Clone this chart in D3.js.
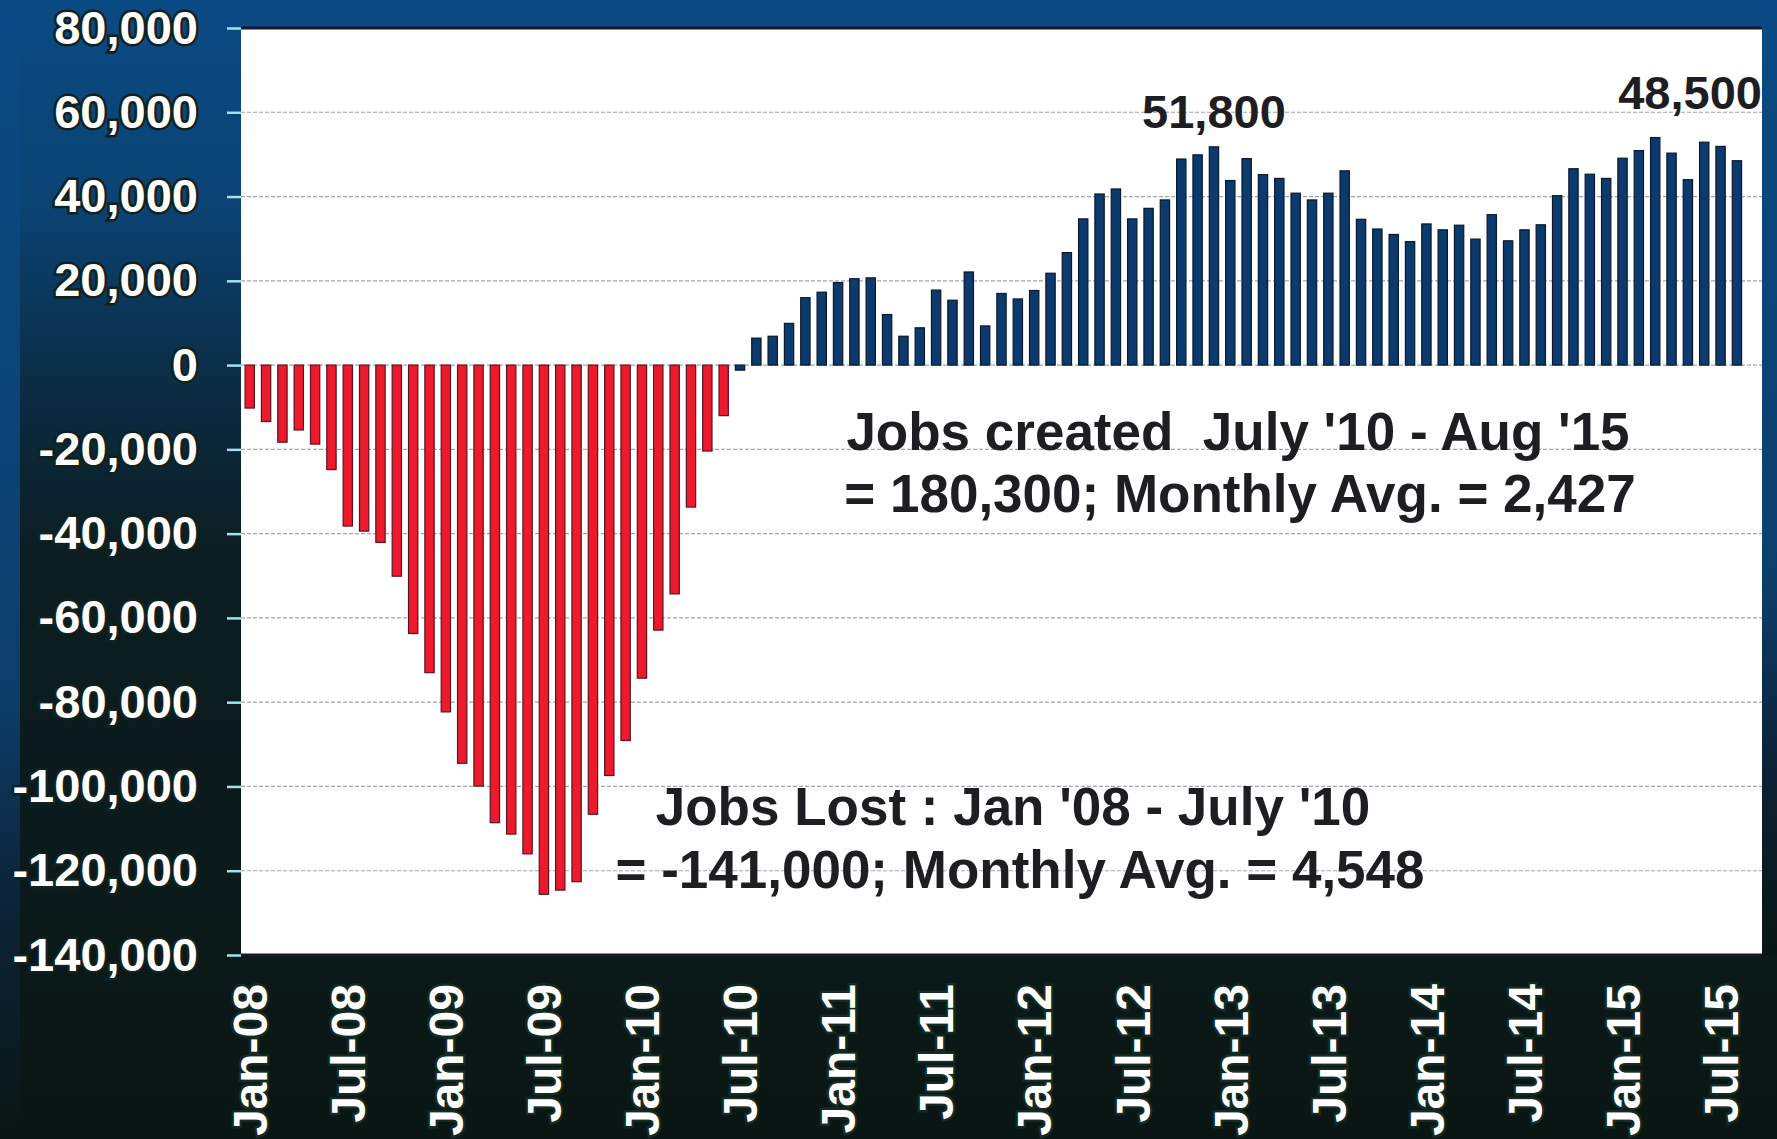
<!DOCTYPE html>
<html>
<head>
<meta charset="utf-8">
<script src="https://cdn.jsdelivr.net/npm/d3@7"></script>
<style>
  body { margin: 0; background: #0b1d1f; }
  svg { display: block; }
</style>
</head>
<body>
<div id="chart"></div>
<script>
// monthly jobs change vs Jan '08
const jobs2008 = [-10200, -13400, -18300, -15400, -18750, -24800, -38200, -39400, -42100, -50100, -63700, -73000];
const jobs2009 = [-82300, -94500, -99900, -108600, -111300, -116000, -125600, -124600, -122600, -106600, -97400, -89100];
const jobs2010 = [-74300, -62900, -54300, -33700, -20400, -12000, -1200, 6400, 6850, 9900, 16000, 17300];
const jobs2011 = [19600, 20500, 20700, 12000, 6850, 8850, 17800, 15400, 22100, 9300, 17000, 15700];
const jobs2012 = [17700, 21800, 26700, 34700, 40600, 41800, 34700, 37200, 39200, 48900, 49900, 51800];
const jobs2013 = [43800, 49000, 45200, 44300, 40800, 39200, 40800, 46100, 34600, 32300, 31000, 29300];
const jobs2014 = [33500, 32100, 33200, 29900, 35700, 29500, 32100, 33300, 40200, 46600, 45300, 44300];
const jobs2015 = [49100, 50900, 54000, 50300, 44000, 52900, 51900, 48500];

const yTicks = [80000, 60000, 40000, 20000, 0, -20000, -40000, -60000, -80000, -100000, -120000, -140000];
const xTickLabels = ["Jan-08", "Jul-08", "Jan-09", "Jul-09", "Jan-10", "Jul-10", "Jan-11", "Jul-11",
                     "Jan-12", "Jul-12", "Jan-13", "Jul-13", "Jan-14", "Jul-14", "Jan-15", "Jul-15"];
const firstCreatedMonth = "Jul-10";

const width = 1777;
const height = 1139;
const plot = {left: 241, right: 1762, top: 28, bottom: 955};

const fmtMonth = d3.timeFormat("%b-%y");
// plain hyphen for negatives, like the original
const fmtNum = d3.formatLocale({decimal: ".", thousands: ",", grouping: [3], currency: ["$", ""], minus: "-"}).format(",");

// axis runs Jan-08 .. Sep-15 (last slot empty)
const months = d3.timeMonth.range(new Date(2008, 0, 1), new Date(2015, 9, 1)).map(fmtMonth);
const values = [].concat(jobs2008, jobs2009, jobs2010, jobs2011, jobs2012, jobs2013, jobs2014, jobs2015);
const data = values.map((v, i) => ({month: months[i], value: v, idx: i}));
const createdIdx = months.indexOf(firstCreatedMonth);

const svg = d3.select("#chart").append("svg").attr("width", width).attr("height", height);

// background
const defs = svg.append("defs");
const bg = defs.append("linearGradient").attr("id", "bg").attr("x1", 0).attr("y1", 0).attr("x2", 0).attr("y2", 1);
bg.append("stop").attr("offset", "0%").attr("stop-color", "#0a4a84");
bg.append("stop").attr("offset", "18%").attr("stop-color", "#0b4373");
bg.append("stop").attr("offset", "34%").attr("stop-color", "#0b2c44");
bg.append("stop").attr("offset", "48%").attr("stop-color", "#0c1e22");
bg.append("stop").attr("offset", "100%").attr("stop-color", "#0a1613");
const strip = defs.append("linearGradient").attr("id", "strip").attr("x1", 0).attr("y1", 0).attr("x2", 0).attr("y2", 1);
strip.append("stop").attr("offset", "0%").attr("stop-color", "#0a4a84");
strip.append("stop").attr("offset", "60%").attr("stop-color", "#0d3f6c");
strip.append("stop").attr("offset", "80%").attr("stop-color", "#0c2236");
strip.append("stop").attr("offset", "100%").attr("stop-color", "#0a1613");

svg.append("rect").attr("width", width).attr("height", height).attr("fill", "url(#bg)");
svg.append("rect").attr("x", 0).attr("width", 20).attr("height", height).attr("fill", "url(#strip)");
svg.append("rect").attr("x", plot.right).attr("width", width - plot.right).attr("height", plot.bottom)
    .attr("fill", "url(#strip)");

// scales
const xScale = d3.scaleBand()
    .domain(months)
    .range([plot.left, plot.right])
    .paddingInner(0.43)
    .paddingOuter(0.25);

const yScale = d3.scaleLinear()
    .domain([-140000, 80000])
    .range([plot.bottom, plot.top]);

// plot area
svg.append("rect")
    .attr("x", plot.left).attr("y", plot.top)
    .attr("width", plot.right - plot.left).attr("height", plot.bottom - plot.top)
    .attr("fill", "#ffffff");

svg.append("g")
    .selectAll("line")
    .data(yTicks.filter(t => t < 80000 && t > -140000))
    .join("line")
    .attr("x1", plot.left).attr("x2", plot.right)
    .attr("y1", d => yScale(d)).attr("y2", d => yScale(d))
    .attr("stroke", "#a4a4ae")
    .attr("stroke-width", 1.2)
    .attr("stroke-dasharray", "4,2");

// y axis
const yAxis = d3.axisLeft(yScale)
    .tickValues(yTicks)
    .tickSize(14)
    .tickPadding(29)
    .tickFormat(fmtNum);

const gy = svg.append("g")
    .attr("transform", `translate(${plot.left}, 0)`)
    .call(yAxis);
gy.select(".domain").remove();
gy.selectAll(".tick line").attr("stroke", "#9fe3f0").attr("stroke-width", 2.5);
gy.selectAll(".tick text")
    .attr("fill", "#ffffff")
    .attr("stroke", "#0f2220")
    .attr("stroke-width", 5)
    .attr("paint-order", "stroke")
    .style("font-family", "'Liberation Sans', Arial, sans-serif")
    .style("font-weight", "bold")
    .style("font-size", "47px");

// x axis
const xAxis = d3.axisBottom(xScale)
    .tickValues(xTickLabels)
    .tickSize(0)
    .tickPadding(0);

const gx = svg.append("g")
    .attr("transform", `translate(0, ${plot.bottom})`)
    .call(xAxis);
gx.select(".domain").remove();
gx.selectAll(".tick text")
    .attr("transform", "rotate(-90)")
    .attr("x", -29)
    .attr("y", 0)
    .attr("dy", "0.36em")
    .attr("text-anchor", "end")
    .attr("fill", "#ffffff")
    .attr("stroke", "#142a22")
    .attr("stroke-width", 5)
    .attr("paint-order", "stroke")
    .style("font-family", "'Liberation Sans', Arial, sans-serif")
    .style("font-weight", "bold")
    .style("font-size", "48px");

// bars
svg.append("g")
    .selectAll("rect")
    .data(data)
    .join("rect")
    .attr("x", d => xScale(d.month))
    .attr("width", xScale.bandwidth())
    .attr("y", d => yScale(Math.max(0, d.value)))
    .attr("height", d => Math.abs(yScale(d.value) - yScale(0)))
    .attr("fill", d => d.idx >= createdIdx ? "#0c3a6c" : "#ec1a2c")
    .attr("stroke", d => d.idx >= createdIdx ? "#061a30" : "#5c1222")
    .attr("stroke-width", 1.2);

// plot frame
svg.append("line")
    .attr("x1", plot.left).attr("x2", plot.right)
    .attr("y1", plot.top).attr("y2", plot.top)
    .attr("stroke", "#1c1230").attr("stroke-width", 3);
svg.append("line")
    .attr("x1", plot.left).attr("x2", plot.right)
    .attr("y1", plot.bottom).attr("y2", plot.bottom)
    .attr("stroke", "#1c1a2a").attr("stroke-width", 3);

// annotations
const annFont = "'Liberation Sans', Arial, sans-serif";
const peak = data.find(d => d.month === "Dec-12");
const last = data[data.length - 1];

svg.append("text")
    .attr("x", xScale(peak.month) + xScale.bandwidth() / 2)
    .attr("y", 128)
    .attr("text-anchor", "middle")
    .style("font-family", annFont).style("font-weight", "bold").style("font-size", "47px")
    .attr("fill", "#1e1e22")
    .text(fmtNum(peak.value));

svg.append("text")
    .attr("x", plot.right)
    .attr("y", 109)
    .attr("text-anchor", "end")
    .style("font-family", annFont).style("font-weight", "bold").style("font-size", "47px")
    .attr("fill", "#1e1e22")
    .text(fmtNum(last.value));

const notes = [
    {x: 1238, y: 450, text: "Jobs created  July '10 - Aug '15"},
    {x: 1240, y: 512, text: "= 180,300; Monthly Avg. = 2,427"},
    {x: 1013, y: 825, text: "Jobs Lost : Jan '08 - July '10"},
    {x: 1020, y: 888, text: "= -141,000; Monthly Avg. = 4,548"}
];

svg.append("g")
    .selectAll("text")
    .data(notes)
    .join("text")
    .attr("x", d => d.x)
    .attr("y", d => d.y)
    .attr("text-anchor", "middle")
    .style("font-family", annFont).style("font-weight", "bold").style("font-size", "53px")
    .style("white-space", "pre")
    .attr("xml:space", "preserve")
    .attr("fill", "#1e1e22")
    .text(d => d.text);
</script>
</body>
</html>
